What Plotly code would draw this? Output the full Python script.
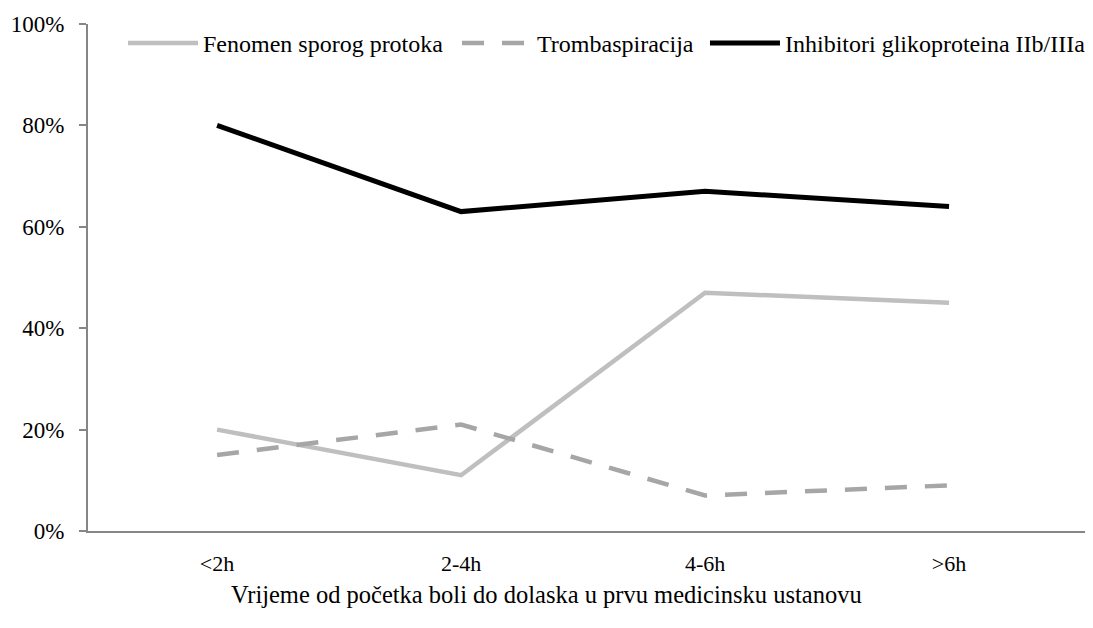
import plotly.graph_objects as go

categories = ["<2h", "2-4h", "4-6h", ">6h"]
fenomen = [20, 11, 47, 45]
tromb = [15, 21, 7, 9]
inhib = [80, 63, 67, 64]
y_ticks = [0, 20, 40, 60, 80, 100]
y_ticklabels = ["0%", "20%", "40%", "60%", "80%", "100%"]
x_title = "Vrijeme od početka boli do dolaska u prvu medicinsku ustanovu"

FONT = "Liberation Serif, Times New Roman, serif"

fig = go.Figure()
fig.add_trace(go.Scatter(x=categories, y=fenomen, mode="lines", name="Fenomen sporog protoka",
                         line=dict(color="#BFBFBF", width=4.5), legend="legend"))
fig.add_trace(go.Scatter(x=categories, y=tromb, mode="lines", name="Trombaspiracija",
                         line=dict(color="#A6A6A6", width=4.5, dash="22px,18px"), legend="legend2"))
fig.add_trace(go.Scatter(x=categories, y=inhib, mode="lines", name="Inhibitori glikoproteina IIb/IIIa",
                         line=dict(color="#000000", width=5), legend="legend3"))

def leg(x):
    return dict(orientation="h", x=x, xanchor="left", y=1.006, yanchor="top",
                bgcolor="rgba(0,0,0,0)", font=dict(family=FONT, size=24), itemwidth=70)

fig.update_layout(
    width=1085, height=620,
    margin=dict(l=80, r=0, t=16, b=97),
    paper_bgcolor="white", plot_bgcolor="white",
    font=dict(family=FONT, size=24, color="black"),
    showlegend=True,
    legend=leg(0.0348),
    legend2=leg(0.3672),
    legend3=leg(0.6139),
    xaxis=dict(
        type="category", range=[-0.529, 3.59],
        showline=True, linecolor="#868686", linewidth=2,
        showgrid=False, ticks="", zeroline=False,
        tickfont=dict(family=FONT, size=22), ticklabelstandoff=12,
    ),
    yaxis=dict(
        range=[0, 100], tickvals=y_ticks, ticktext=y_ticklabels,
        showline=True, linecolor="#868686", linewidth=2,
        ticks="outside", ticklen=7, tickcolor="#868686", tickwidth=2,
        showgrid=False, zeroline=False, tickfont=dict(family=FONT, size=23),
        ticklabelstandoff=10,
    ),
    annotations=[dict(text=x_title, xref="paper", yref="paper", x=0.4567, y=-0.126,
                      xanchor="center", yanchor="middle", showarrow=False,
                      font=dict(family=FONT, size=24.5, color="black"))],
)

fig.write_html("out.html")
